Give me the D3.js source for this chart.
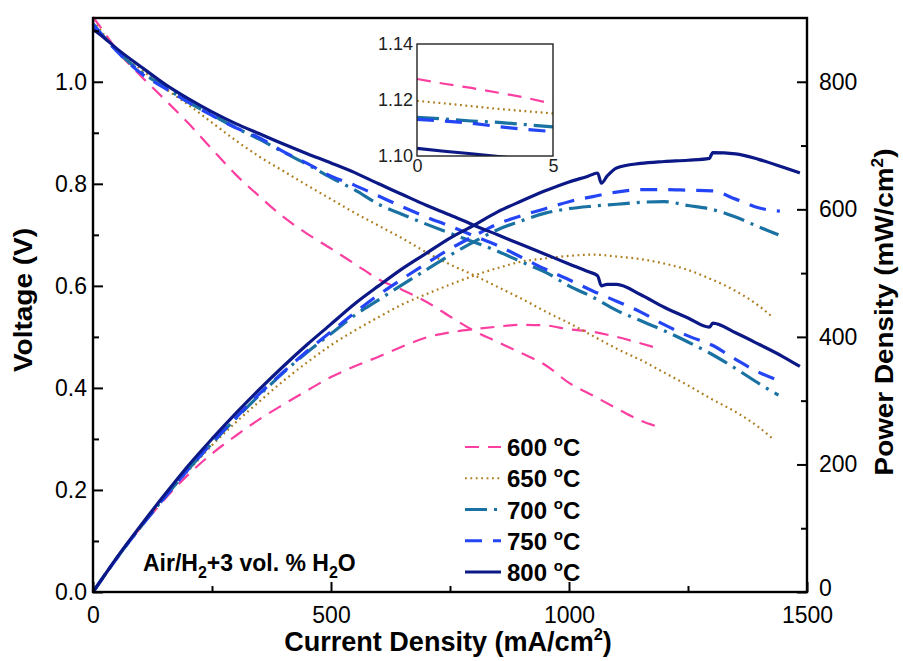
<!DOCTYPE html>
<html>
<head>
<meta charset="utf-8">
<script src="https://cdn.jsdelivr.net/npm/d3@7"></script>
<style>
  html, body { margin: 0; padding: 0; background: #fff; }
  svg { display: block; }
  text { font-family: "Liberation Sans", Arial, sans-serif; fill: #000; }
</style>
</head>
<body>
<svg id="chart" width="903" height="661"></svg>
<script>
// ---- temperatures (legend order) ----
const temps = ["600", "650", "700", "750", "800"];

// ---- voltage vs current density (mA/cm2 -> V) ----
const i600V = [0, 25, 50, 100, 150, 200, 250, 300, 350, 400, 450, 500, 550, 600, 650, 700, 750, 800, 850, 900, 950, 1000, 1050, 1100, 1150, 1183];
const v600  = [1.127, 1.095, 1.062, 1.012, 0.966, 0.919, 0.868, 0.818, 0.775, 0.735, 0.702, 0.673, 0.643, 0.613, 0.592, 0.569, 0.540, 0.512, 0.490, 0.468, 0.445, 0.410, 0.385, 0.360, 0.336, 0.325];

const i650V = [0, 25, 50, 100, 150, 200, 250, 300, 350, 400, 450, 500, 550, 600, 650, 700, 750, 800, 850, 900, 950, 1000, 1050, 1100, 1150, 1200, 1250, 1300, 1350, 1400, 1426];
const v650  = [1.120, 1.090, 1.062, 1.025, 0.988, 0.955, 0.920, 0.885, 0.853, 0.825, 0.797, 0.770, 0.743, 0.718, 0.693, 0.666, 0.642, 0.621, 0.598, 0.575, 0.550, 0.527, 0.502, 0.477, 0.455, 0.430, 0.405, 0.378, 0.353, 0.322, 0.302];

const i700V = [0, 25, 50, 100, 150, 200, 250, 300, 350, 400, 450, 500, 550, 600, 650, 700, 750, 800, 850, 900, 950, 1000, 1050, 1100, 1150, 1200, 1250, 1300, 1350, 1400, 1440];
const v700  = [1.114, 1.086, 1.061, 1.020, 0.990, 0.960, 0.935, 0.910, 0.887, 0.862, 0.838, 0.812, 0.788, 0.760, 0.740, 0.721, 0.703, 0.686, 0.668, 0.647, 0.627, 0.600, 0.578, 0.552, 0.532, 0.512, 0.490, 0.466, 0.438, 0.408, 0.386];

const i750V = [0, 25, 50, 100, 150, 200, 250, 300, 350, 400, 450, 500, 550, 600, 650, 700, 750, 800, 850, 900, 950, 1000, 1050, 1100, 1150, 1200, 1250, 1300, 1350, 1400, 1443];
const v750  = [1.113, 1.085, 1.060, 1.017, 0.988, 0.960, 0.934, 0.910, 0.890, 0.863, 0.840, 0.815, 0.797, 0.776, 0.755, 0.735, 0.717, 0.698, 0.679, 0.656, 0.633, 0.612, 0.590, 0.570, 0.549, 0.524, 0.502, 0.484, 0.456, 0.430, 0.414];

const i800V = [0, 25, 50, 100, 150, 200, 250, 300, 350, 400, 450, 500, 550, 600, 650, 700, 750, 800, 850, 900, 950, 1000, 1040, 1060, 1068, 1080, 1100, 1150, 1200, 1250, 1295, 1302, 1350, 1400, 1450, 1485];
const v800  = [1.103, 1.085, 1.065, 1.030, 0.996, 0.967, 0.941, 0.918, 0.898, 0.878, 0.859, 0.841, 0.822, 0.800, 0.779, 0.758, 0.739, 0.719, 0.700, 0.681, 0.662, 0.643, 0.628, 0.620, 0.600, 0.603, 0.603, 0.583, 0.558, 0.537, 0.519, 0.527, 0.508, 0.485, 0.461, 0.442];

// ---- power density vs current density (mA/cm2 -> mW/cm2) ----
const i600P = [0, 25, 50, 100, 150, 200, 250, 300, 350, 400, 450, 500, 550, 600, 650, 700, 750, 800, 850, 900, 950, 1000, 1050, 1100, 1150, 1183];
const p600  = [0, 27, 53, 101, 145, 184, 217, 245, 271, 294, 316, 337, 354, 369, 385, 399, 407, 412, 416, 419, 418, 412, 408, 400, 390, 383];

const i650P = [0, 25, 50, 100, 150, 200, 250, 300, 350, 400, 450, 500, 550, 600, 650, 700, 750, 800, 850, 900, 950, 1000, 1050, 1100, 1150, 1200, 1250, 1300, 1350, 1400, 1426];
const p650  = [0, 27, 53, 102, 148, 190, 230, 266, 299, 331, 360, 387, 410, 431, 451, 467, 482, 496, 508, 518, 523, 527, 529, 526, 522, 515, 505, 490, 472, 448, 432];

const i700P = [0, 25, 50, 100, 150, 200, 250, 300, 350, 400, 450, 500, 550, 600, 650, 700, 750, 800, 850, 900, 950, 1000, 1050, 1100, 1150, 1200, 1250, 1300, 1350, 1400, 1440];
const p700  = [0, 27, 53, 102, 148, 192, 233, 272, 309, 344, 376, 405, 434, 458, 482, 505, 528, 549, 568, 582, 594, 601, 605, 608, 611, 612, 606, 600, 588, 572, 560];

const i750P = [0, 25, 50, 100, 150, 200, 250, 300, 350, 400, 450, 500, 550, 600, 650, 700, 750, 800, 850, 900, 950, 1000, 1050, 1100, 1150, 1200, 1250, 1300, 1350, 1400, 1443];
const p750  = [0, 27, 53, 102, 148, 192, 234, 273, 311, 345, 378, 408, 438, 466, 491, 515, 538, 558, 577, 590, 601, 612, 620, 627, 631, 631, 630, 629, 616, 602, 597];

const i800P = [0, 25, 50, 100, 150, 200, 250, 300, 350, 400, 450, 500, 550, 600, 650, 700, 750, 800, 850, 900, 950, 1000, 1040, 1060, 1068, 1080, 1100, 1150, 1200, 1250, 1295, 1302, 1350, 1400, 1450, 1485];
const p800  = [0, 27, 54, 104, 152, 198, 240, 280, 318, 354, 388, 420, 452, 480, 507, 531, 555, 575, 596, 613, 629, 643, 652, 657, 641, 652, 665, 672, 675, 677, 680, 689, 687, 678, 666, 657];

// ---- inset: open-circuit region, 0-5 mA/cm2 ----
const iInset   = [0, 1, 2, 3, 4, 5];
const v600Ins  = [1.1275, 1.1258, 1.1243, 1.1226, 1.1208, 1.1186];
const v650Ins  = [1.1197, 1.1188, 1.1178, 1.1168, 1.1160, 1.1152];
const v700Ins  = [1.1138, 1.1132, 1.1125, 1.1120, 1.1112, 1.1104];
const v750Ins  = [1.1131, 1.1125, 1.1117, 1.1105, 1.1095, 1.1087];
const v800Ins  = [1.1027, 1.1017, 1.1008, 1.0998, 1.0988, 1.0978];

// ---- axis ticks ----
const xTicks = [0, 500, 1000, 1500];
const vTicks = [0.0, 0.2, 0.4, 0.6, 0.8, 1.0];
const pTicks = [0, 200, 400, 600, 800];
const insetVTicks = [1.10, 1.12, 1.14];
const insetITicks = [0, 5];

// ---- line styles per temperature ----
const styles = {
  "600": { color: "#fa3fa0", width: 2.2, dash: "14,9" },
  "650": { color: "#ad7c1c", width: 2.2, dash: "1.8,3.6" },
  "700": { color: "#1a72a3", width: 3.2, dash: "22,7,3,7" },
  "750": { color: "#2445f5", width: 3.2, dash: "17,11" },
  "800": { color: "#0b1886", width: 3.2, dash: null }
};

const seriesV = {
  "600": [i600V, v600], "650": [i650V, v650], "700": [i700V, v700],
  "750": [i750V, v750], "800": [i800V, v800]
};
const seriesP = {
  "600": [i600P, p600], "650": [i650P, p650], "700": [i700P, p700],
  "750": [i750P, p750], "800": [i800P, p800]
};
const seriesInset = {
  "600": v600Ins, "650": v650Ins, "700": v700Ins, "750": v750Ins, "800": v800Ins
};

const svg = d3.select("#chart");
const M = { left: 93, right: 807, top: 18, bottom: 592 };

const x  = d3.scaleLinear().domain([0, 1500]).range([M.left, M.right]);
const yV = d3.scaleLinear().domain([0, 1.125]).range([M.bottom, M.top]);
const yP = d3.scaleLinear().domain([0, 900]).range([M.bottom, M.top]);

const zip = (a, b) => a.map((d, k) => [d, b[k]]);

function styleLine(sel, t) {
  const s = styles[t];
  sel.attr("fill", "none")
     .attr("stroke", s.color)
     .attr("stroke-width", s.width)
     .attr("stroke-linejoin", "round");
  if (s.dash) sel.attr("stroke-dasharray", s.dash);
  return sel;
}

const plot = svg.append("g");
const lineV = d3.line().x(d => x(d[0])).y(d => yV(d[1])).curve(d3.curveMonotoneX);
const lineP = d3.line().x(d => x(d[0])).y(d => yP(d[1])).curve(d3.curveMonotoneX);

temps.forEach(t => {
  styleLine(plot.append("path").datum(zip(...seriesP[t])).attr("d", lineP), t);
  styleLine(plot.append("path").datum(zip(...seriesV[t])).attr("d", lineV), t);
});

// ---- axes (ticks point inward) ----
const axisStroke = 2.4;
function styleAxis(g) {
  g.select(".domain").remove();
  g.selectAll(".tick line").attr("stroke", "#000").attr("stroke-width", 2);
  g.selectAll(".tick text").style("font-size", "23px").style("font-family", "'Liberation Sans', Arial, sans-serif");
}

// minor ticks
const minorX = d3.range(250, 1500, 500);
const minorV = d3.range(0.1, 1.125, 0.2);
const minorP = d3.range(100, 900, 200);

const gx = svg.append("g").attr("transform", `translate(0,${M.bottom})`)
  .call(d3.axisBottom(x).tickValues(xTicks).tickSize(-10).tickPadding(10).tickFormat(d3.format("d")));
styleAxis(gx);
gx.selectAll(".tick text").attr("dy", "0.9em");
svg.append("g").attr("transform", `translate(0,${M.bottom})`)
  .call(d3.axisBottom(x).tickValues(minorX).tickSize(-6).tickFormat(""))
  .call(g => { g.select(".domain").remove(); g.selectAll("line").attr("stroke", "#000").attr("stroke-width", 2); });

const gl = svg.append("g").attr("transform", `translate(${M.left},0)`)
  .call(d3.axisLeft(yV).tickValues(vTicks).tickSize(-10).tickPadding(6).tickFormat(d3.format(".1f")));
styleAxis(gl);
svg.append("g").attr("transform", `translate(${M.left},0)`)
  .call(d3.axisLeft(yV).tickValues(minorV).tickSize(-6).tickFormat(""))
  .call(g => { g.select(".domain").remove(); g.selectAll("line").attr("stroke", "#000").attr("stroke-width", 2); });

const gr = svg.append("g").attr("transform", `translate(${M.right},0)`)
  .call(d3.axisRight(yP).tickValues(pTicks).tickSize(-10).tickPadding(12).tickFormat(d3.format("d")));
styleAxis(gr);
// the zero label sits just above the "1500" label of the current axis
gr.selectAll(".tick text").filter(d => d === 0).attr("dy", "0.15em");
svg.append("g").attr("transform", `translate(${M.right},0)`)
  .call(d3.axisRight(yP).tickValues(minorP).tickSize(-6).tickFormat(""))
  .call(g => { g.select(".domain").remove(); g.selectAll("line").attr("stroke", "#000").attr("stroke-width", 2); });

// frame
svg.append("rect")
  .attr("x", M.left).attr("y", M.top)
  .attr("width", M.right - M.left).attr("height", M.bottom - M.top)
  .attr("fill", "none").attr("stroke", "#000").attr("stroke-width", axisStroke);

// ---- axis titles (bold, condensed) ----
const titleFont = "'Liberation Sans Narrow', 'Arial Narrow', 'Liberation Sans', Arial, sans-serif";
function fitWidth(textSel, targetW) {
  const w = textSel.node().getBBox().width;
  return targetW / w;
}

const xt = svg.append("text")
  .attr("text-anchor", "middle")
  .style("font-family", titleFont).style("font-weight", "bold").style("font-size", "28px");
xt.append("tspan").text("Current Density (mA/cm");
xt.append("tspan").attr("dy", -11).style("font-size", "17px").text("2");
xt.append("tspan").attr("dy", 11).text(")");
xt.attr("transform", `translate(448,651) scale(${fitWidth(xt, 328)},1)`);

const yt = svg.append("text")
  .attr("text-anchor", "middle")
  .style("font-family", titleFont).style("font-weight", "bold").style("font-size", "26px")
  .text("Voltage (V)");
yt.attr("transform", `translate(32,300) rotate(-90) scale(${fitWidth(yt, 144)},1)`);

const pt = svg.append("text")
  .attr("text-anchor", "middle")
  .style("font-family", titleFont).style("font-weight", "bold").style("font-size", "26px");
pt.append("tspan").text("Power Density (mW/cm");
pt.append("tspan").attr("dy", -10).style("font-size", "16px").text("2");
pt.append("tspan").attr("dy", 10).text(")");
pt.attr("transform", `translate(893,312) rotate(-90) scale(${fitWidth(pt, 327)},1)`);

// ---- condition label ----
const cond = svg.append("text")
  .attr("x", 143).attr("y", 571)
  .style("font-weight", "bold").style("font-size", "23px");
cond.append("tspan").text("Air/H");
cond.append("tspan").attr("dy", 7).style("font-size", "16px").text("2");
cond.append("tspan").attr("dy", -7).text("+3 vol. % H");
cond.append("tspan").attr("dy", 7).style("font-size", "16px").text("2");
cond.append("tspan").attr("dy", -7).text("O");

// ---- legend ----
const legY = d3.scalePoint().domain(temps).range([447, 572]);
const leg = svg.append("g");
temps.forEach(t => {
  const yy = legY(t);
  styleLine(leg.append("line")
    .attr("x1", 465).attr("x2", 501).attr("y1", yy).attr("y2", yy), t);
  const tx = leg.append("text").attr("x", 507).attr("y", yy + 9)
    .style("font-weight", "bold").style("font-size", "24px");
  tx.append("tspan").text(t + " ");
  tx.append("tspan").attr("dy", -10).style("font-size", "15px").text("o");
  tx.append("tspan").attr("dy", 10).text("C");
});

// ---- inset ----
const ins = { left: 417, right: 553, top: 44, bottom: 156 };
const xi = d3.scaleLinear().domain([0, 5]).range([ins.left, ins.right]);
const yi = d3.scaleLinear().domain([1.10, 1.14]).range([ins.bottom, ins.top]);

svg.append("rect")
  .attr("x", ins.left).attr("y", ins.top)
  .attr("width", ins.right - ins.left).attr("height", ins.bottom - ins.top)
  .attr("fill", "#fff");

svg.append("clipPath").attr("id", "insetClip")
  .append("rect")
  .attr("x", ins.left).attr("y", ins.top)
  .attr("width", ins.right - ins.left).attr("height", ins.bottom - ins.top);

const gi = svg.append("g").attr("clip-path", "url(#insetClip)");
const lineI = d3.line().x(d => xi(d[0])).y(d => yi(d[1]));
temps.forEach(t => {
  styleLine(gi.append("path").datum(zip(iInset, seriesInset[t])).attr("d", lineI), t);
});

svg.append("rect")
  .attr("x", ins.left).attr("y", ins.top)
  .attr("width", ins.right - ins.left).attr("height", ins.bottom - ins.top)
  .attr("fill", "none").attr("stroke", "#222").attr("stroke-width", 1.4);

svg.append("g").attr("transform", `translate(${ins.left},0)`)
  .call(d3.axisLeft(yi).tickValues(insetVTicks).tickSize(0).tickPadding(4).tickFormat(d3.format(".2f")))
  .call(g => {
    g.select(".domain").remove();
    g.selectAll("text").style("font-size", "18px").style("fill", "#222");
  });
svg.append("g").attr("transform", `translate(0,${ins.bottom})`)
  .call(d3.axisBottom(xi).tickValues(insetITicks).tickSize(0).tickPadding(3).tickFormat(d3.format("d")))
  .call(g => {
    g.select(".domain").remove();
    g.selectAll("text").style("font-size", "18px").style("fill", "#222");
  });
</script>
</body>
</html>
